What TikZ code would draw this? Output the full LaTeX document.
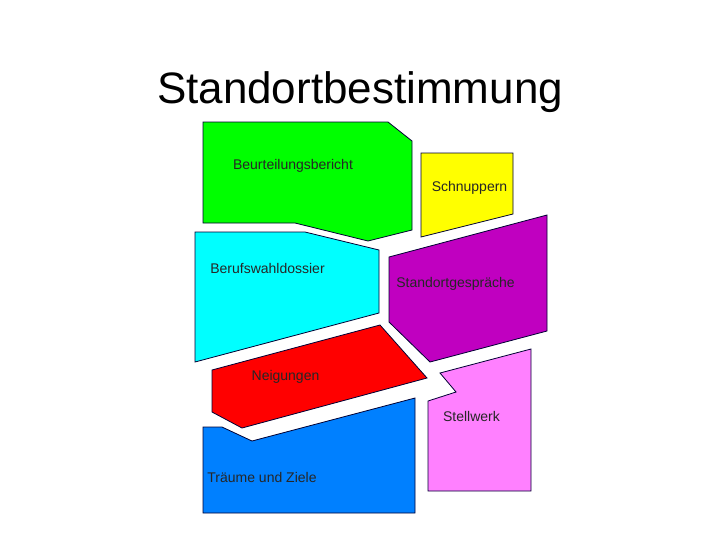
\documentclass[tikz,border=0pt]{standalone}
\usepackage{fontspec}
\setmainfont{Liberation Sans}
\usepackage{tikz}

\definecolor{tilegreen}{RGB}{0,255,0}
\definecolor{tileyellow}{RGB}{255,255,0}
\definecolor{tilecyan}{RGB}{0,255,255}
\definecolor{tilepurple}{RGB}{192,0,192}
\definecolor{tilered}{RGB}{255,0,0}
\definecolor{tileblue}{RGB}{0,128,255}
\definecolor{tilepink}{RGB}{255,128,255}

\begin{document}
\begin{tikzpicture}[x=0.75pt,y=-0.75pt]
    \tikzstyle{tile}=[draw=black!80!blue, line width=0.6pt, line join=miter]
    \tikzstyle{label}=[inner sep=0pt, font=\fontsize{10.5}{12}\selectfont, text=black!85]
    \useasboundingbox (0,0) rectangle (720,540);

    \node[anchor=base, inner sep=0pt, font=\fontsize{33}{39}\selectfont] (title) at (360,103) {Standortbestimmung};

    % tiles
    \draw[tile, fill=tilegreen]  (203,122) -- (388,122) -- (412,141) -- (412,230) -- (368,241) -- (295,223) -- (203,223) -- cycle;
    \draw[tile, fill=tileyellow] (421,153) -- (513,153) -- (513,214) -- (421,237) -- cycle;
    \draw[tile, fill=tilecyan]   (195,232) -- (305,232) -- (379,250) -- (379,313) -- (195,362) -- cycle;
    \draw[tile, fill=tilepurple] (389,257) -- (547,215) -- (547,331) -- (430,362) -- (389,322) -- cycle;
    \draw[tile, fill=tilered]    (212,370) -- (380,325) -- (427,378) -- (242,428) -- (212,412) -- cycle;
    \draw[tile, fill=tileblue]   (203,427) -- (222,427) -- (252,441) -- (415,398) -- (415,513) -- (203,513) -- cycle;
    \draw[tile, fill=tilepink]   (440,373) -- (531,349) -- (531,491) -- (428,491) -- (428,401) -- (456,392) -- cycle;

    \node[label] (beurteilung) at (293,166) {Beurteilungsbericht};
    \node[label] (schnuppern) at (469.5,188) {Schnuppern};
    \node[label] (berufswahl) at (267.5,268) {Berufswahldossier};
    \node[label] (gespraeche) at (455.5,284) {Standortgespräche};
    \node[label] (neigungen) at (285.5,377) {Neigungen};
    \node[label] (stellwerk) at (471.5,416) {Stellwerk};
    \node[label] (traeume) at (262,477) {Träume und Ziele};
\end{tikzpicture}
\end{document}
